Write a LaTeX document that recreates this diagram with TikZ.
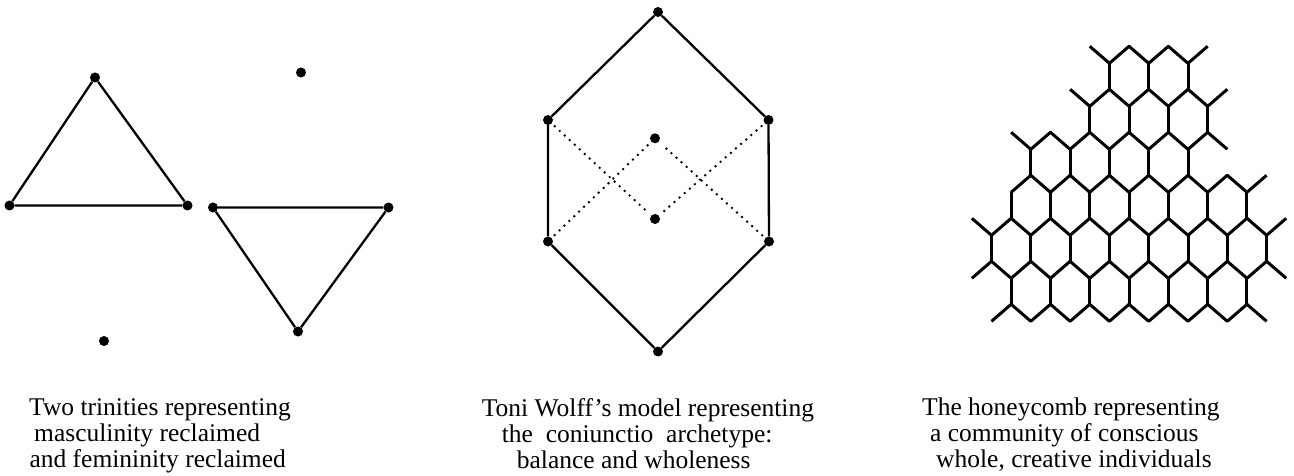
\documentclass[tikz,border=0pt]{standalone}
\usepackage{fontspec}
\setmainfont{Liberation Serif}
\begin{document}
\begin{tikzpicture}[x=1pt,y=-1pt,
  vdot/.style={circle,fill=black,inner sep=0pt,minimum size=10pt},
  edge/.style={line width=2.3pt},
  dotline/.style={line width=2.7pt,line cap=round,dash pattern=on 0pt off 6.8pt},
  hc/.style={line width=3pt,line join=round},
  captext/.style={anchor=base west,inner sep=0pt,font=\fontsize{25.5}{26}\selectfont}]
\useasboundingbox (0,0) rectangle (1294,476);
% ---------- two trinities ----------
\node[vdot] (a1) at (95,77.5) {};
\node[vdot] (a2) at (9.5,205.5) {};
\node[vdot] (a3) at (187.5,205.5) {};
\node[vdot] (b1) at (213,207.5) {};
\node[vdot] (b2) at (388.5,207.5) {};
\node[vdot] (b3) at (298,331.5) {};
\node[vdot] (s1) at (301,72.5) {};
\node[vdot] (s2) at (104,341) {};
\draw[edge] (a1) -- (a2) -- (a3) -- (a1);
\draw[edge] (b1) -- (b2) -- (b3) -- (b1);
% ---------- Toni Wolff's model ----------
\node[vdot] (ht) at (658,12) {};
\node[vdot] (hlu) at (548,120) {};
\node[vdot] (hru) at (768.5,120) {};
\node[vdot] (hll) at (548,241.5) {};
\node[vdot] (hrl) at (769,241.5) {};
\node[vdot] (hb) at (658,351.5) {};
\node[vdot] (cu) at (655,138.3) {};
\node[vdot] (cl) at (655,219) {};
\draw[edge] (ht) -- (hru) -- (hrl) -- (hb) -- (hll) -- (hlu) -- (ht);
\draw[dotline,shorten <=4pt,shorten >=5pt] (hlu) -- (cl);
\draw[dotline,shorten <=4pt,shorten >=5pt] (hll) -- (cu);
\draw[dotline,shorten <=4pt,shorten >=5pt] (hru) -- (cl);
\draw[dotline,shorten <=4pt,shorten >=5pt] (hrl) -- (cu);
% ---------- honeycomb ----------
% zigzags between consecutive vertex levels
\foreach \ya/\yb/\p/\ja/\jb in {46.3/63.3/0/5/11, 89.3/106.3/1/4/12,
    132.3/149.3/0/1/12, 175.3/192.3/1/1/14, 218.3/235.3/0/-1/15,
    261.3/278.3/1/-1/15, 304.3/321.3/0/0/14}{
  \pgfmathtruncatemacro{\jc}{\ja+1}
  \draw[hc] ({991.5+19.65*\ja},{ifthenelse(mod(\ja+100,2)==\p,\yb,\ya)})
    \foreach \j in {\jc,...,\jb}{
      -- ({991.5+19.65*\j},{ifthenelse(mod(\j+100,2)==\p,\yb,\ya)}) };
}
% vertical walls
\foreach \yu/\js in {63.3/{6,8,10}, 106.3/{5,7,9,11}, 149.3/{2,4,6,8,10},
    192.3/{1,3,5,7,9,11,13}, 235.3/{0,2,4,6,8,10,12,14},
    278.3/{1,3,5,7,9,11,13}}{
  \foreach \j in \js{
    \draw[hc] ({991.5+19.65*\j},\yu) -- ({991.5+19.65*\j},{\yu+26});
  }
}
% ---------- captions ----------
\node[captext] (l1) at (29,415.7) {Two trinities representing};
\node[captext] (l2) at (34,441.7) {masculinity reclaimed};
\node[captext] (l3) at (29.3,467.7) {and femininity reclaimed};
\node[captext] (m1) at (481.7,416.5) {Toni Wolff’s model representing};
\node[captext] (m2) at (501.7,442.3) {the\ \ coniunctio\ \ archetype:};
\node[captext] (m3) at (516.7,468.3) {balance and wholeness};
\node[captext] (r1) at (922,415.5) {The honeycomb representing};
\node[captext] (r2) at (930,441.5) {a community of conscious};
\node[captext] (r3) at (936,467.8) {whole, creative individuals};
\end{tikzpicture}
\end{document}
